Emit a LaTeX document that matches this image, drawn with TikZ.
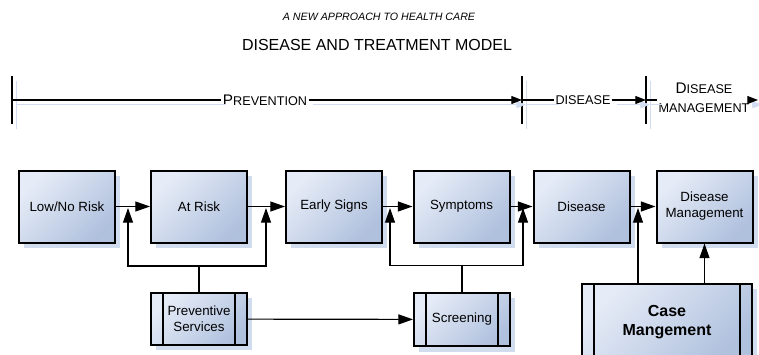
\documentclass[tikz,border=0pt]{standalone}
\usepackage{fontspec}
\setmainfont{Liberation Sans}
\usetikzlibrary{arrows.meta,shadows}
\definecolor{boxlight}{RGB}{230,236,247}
\definecolor{boxdark}{RGB}{176,193,222}
\definecolor{shadowblue}{RGB}{210,220,239}
\definecolor{lineshadow}{RGB}{210,221,241}
\newcommand{\tlbig}[1]{{\fontsize{11.5}{13}\selectfont #1}}
\newcommand{\tlsmall}[1]{{\fontsize{9.5}{11}\selectfont #1}}
\tikzset{
  shad/.style={preaction={draw=lineshadow,transform canvas={shift={(3.5pt,-3.5pt)}}}},
  box/.style={draw,line width=1.5pt,top color=boxlight,bottom color=boxdark,shading angle=45,
    minimum width=72pt,minimum height=54pt,align=center,inner sep=1pt,
    font=\fontsize{10}{12}\selectfont,
    general shadow={fill=shadowblue,shadow xshift=4pt,shadow yshift=-4pt}},
  subbox/.style={box,path picture={
    \draw[line width=1.5pt] ([xshift=9pt]path picture bounding box.north west) -- ([xshift=9pt]path picture bounding box.south west);
    \draw[line width=1.5pt] ([xshift=-9pt]path picture bounding box.north east) -- ([xshift=-9pt]path picture bounding box.south east);}},
  conn/.style={line width=0.9pt,shad},
  arr/.style={-{Triangle[length=11pt,width=7.5pt]}},
  tline/.style={line width=0.8pt,shad},
  tarr/.style={-{Triangle[length=8pt,width=6pt]}},
  tick/.style={line width=1.4pt,shad},
  tlabel/.style={inner sep=1pt,align=center}
}
\begin{document}
\begin{tikzpicture}[x=0.75pt,y=-0.75pt]
  \useasboundingbox (0,0) rectangle (759,354);
  \clip (0,0) rectangle (759,354);
  \node (subtitle) at (379,17) {\itshape\fontsize{8}{10}\selectfont A NEW APPROACH TO HEALTH CARE};
  \node (title) at (377,45) {\fontsize{12}{14}\selectfont DISEASE AND TREATMENT MODEL};
  \coordinate (t0) at (12,100);
  \coordinate (t1) at (522,100);
  \coordinate (t2) at (646,100);
  \coordinate (tend) at (758,100);
  \node[tlabel] (lprev) at (265,100) {\tlbig{P}\tlsmall{REVENTION}};
  \node[tlabel] (ldis) at (583,100) {\tlsmall{DISEASE}};
  \node[tlabel,font=\fontsize{9.5}{14}\selectfont] (ldm) at (704,98) {\tlbig{D}\tlsmall{ISEASE}\\\tlsmall{MANAGEMENT}};
  \draw[tick] ([yshift=18pt]t0) -- ([yshift=-18pt]t0);
  \draw[tick] ([yshift=18pt]t1) -- ([yshift=-18pt]t1);
  \draw[tick] ([yshift=18pt]t2) -- ([yshift=-18pt]t2);
  \draw[tline] (t0) -- (lprev);
  \draw[tline,tarr] (lprev) -- (t1);
  \draw[tline] (t1) -- (ldis);
  \draw[tline,tarr] (ldis) -- (t2);
  \draw[tline] (t2) -- (ldm.west |- t2);
  \draw[tline,tarr] (ldm.east |- tend) -- (tend);

  \node[box] (low) at (67,206.5) {Low/No Risk};
  \node[box] (atrisk) at (199,206.5) {At Risk};
  \node[box] (early) at (334,206.5) {Early Signs};
  \node[box] (symp) at (461.5,206.5) {Symptoms};
  \node[box] (dis) at (581.5,206.5) {Disease};
  \node[box] (dm) at (704.5,206.5) {Disease\\Management};
  \node[subbox,minimum height=39pt] (prev) at (199,319) {Preventive\\Services};
  \node[subbox,minimum height=40pt] (scr) at (462,319.5) {Screening};
  \node[subbox,minimum width=127.5pt,minimum height=57pt,font=\bfseries\fontsize{12}{14}\selectfont] (case) at (667,322) {Case\\Mangement};

  \coordinate (pa) at (128,208);
  \coordinate (pb) at (266,208);
  \coordinate (sa) at (390,208);
  \coordinate (sb) at (523,208);
  \coordinate (ca) at (638,208);
  \begin{scope}[conn]
    \draw[arr] (low) to (atrisk);
    \draw[arr] (atrisk) to (early);
    \draw[arr] (early) to (symp);
    \draw[arr] (symp) to (dis);
    \draw[arr] (dis) to (dm);
    \draw[arr] (prev) to (scr);
    \draw (prev.north) -- ++(0,-26) coordinate (pm);
    \draw[arr] (pm) -| (pa);
    \draw[arr] (pm) -| (pb);
    \draw (scr.north) -- ++(0,-26) coordinate (sm);
    \draw[arr] (sm) -| (sa);
    \draw[arr] (sm) -| (sb);
    \draw[arr] (case.north -| ca) -- (ca);
    \draw[arr] (case.north -| dm.south) -- (dm.south);
  \end{scope}
\end{tikzpicture}
\end{document}
